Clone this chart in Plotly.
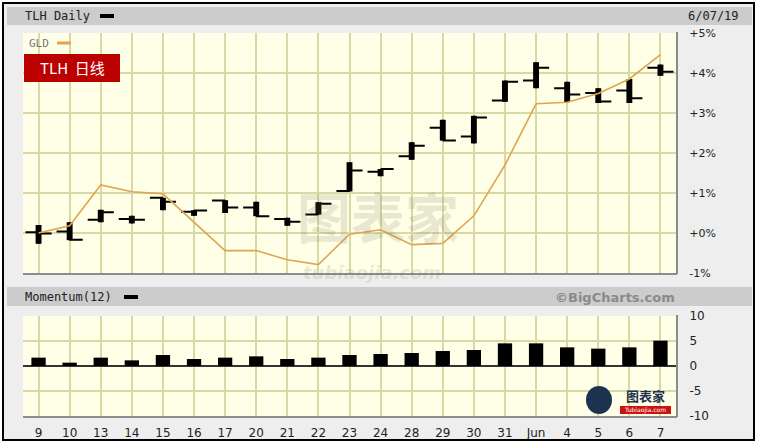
import plotly.graph_objects as go

# ---------------- data ----------------
dates = ["9", "10", "13", "14", "15", "16", "17", "20", "21", "22", "23",
         "24", "28", "29", "30", "31", "Jun", "4", "5", "6", "7"]
tlh_open = [0.02, 0.04, 0.33, 0.35, 0.88, 0.53, 0.81, 0.64, 0.35, 0.46, 1.05,
            1.53, 1.92, 2.63, 2.41, 3.31, 3.81, 3.62, 3.50, 3.56, 4.13]
tlh_high = [0.20, 0.27, 0.58, 0.43, 0.88, 0.57, 0.82, 0.78, 0.38, 0.77, 1.77,
            1.60, 2.27, 2.83, 2.93, 3.81, 4.27, 3.78, 3.62, 3.85, 4.21]
tlh_low = [-0.27, -0.18, 0.27, 0.24, 0.57, 0.43, 0.50, 0.42, 0.18, 0.46, 1.04,
           1.42, 1.83, 2.31, 2.24, 3.28, 3.62, 3.27, 3.25, 3.25, 3.93]
tlh_close = [-0.01, -0.17, 0.52, 0.33, 0.78, 0.56, 0.64, 0.42, 0.28, 0.73, 1.56,
             1.60, 2.18, 2.31, 2.89, 3.78, 4.13, 3.46, 3.29, 3.37, 4.03]
gld = [0.00, 0.18, 1.20, 1.03, 0.98, 0.26, -0.44, -0.44, -0.67, -0.79, -0.03,
       0.08, -0.29, -0.26, 0.43, 1.70, 3.23, 3.27, 3.49, 3.85, 4.46]
momentum = [1.67, 0.67, 1.67, 1.13, 2.2, 1.4, 1.67, 1.93, 1.4, 1.67, 2.2,
            2.4, 2.6, 3.0, 3.2, 4.53, 4.53, 3.73, 3.47, 3.73, 5.07]
price_ticks = [-1, 0, 1, 2, 3, 4, 5]
price_tick_text = ["-1%", "+0%", "+1%", "+2%", "+3%", "+4%", "+5%"]
mom_ticks = [-10, -5, 0, 5, 10]
mom_tick_text = ["-10", "-5", "0", "5", "10"]

# ---------------- layout helpers ----------------
W, H = 762, 445
def px(x):
    return x / W
def py(y):
    return 1 - y / H

idx = list(range(len(dates)))
rng = [-0.5, len(dates) - 0.5]
GRID = "#d9d9a6"
PLOTBG = "#fffee6"
FONT = "DejaVu Sans"

fig = go.Figure()

fig.add_trace(go.Scatter(x=idx, y=gld, mode="lines",
                         line=dict(color="#dea650", width=1.6),
                         xaxis="x", yaxis="y", hoverinfo="skip"))
fig.add_trace(go.Ohlc(x=idx, open=tlh_open, high=tlh_high, low=tlh_low, close=tlh_close,
                      increasing=dict(line=dict(color="black", width=2)),
                      decreasing=dict(line=dict(color="black", width=2)),
                      tickwidth=0.42, xaxis="x", yaxis="y"))
fig.add_trace(go.Bar(x=idx, base=tlh_low,
                     y=[h - l for h, l in zip(tlh_high, tlh_low)],
                     width=0.19, marker=dict(color="black", line=dict(width=0)),
                     xaxis="x", yaxis="y"))
fig.add_trace(go.Bar(x=idx, y=momentum, width=0.46,
                     marker=dict(color="black", line=dict(width=0)),
                     xaxis="x2", yaxis="y2"))

shapes = []
# white strips outside the frame
for (x0, x1, y0, y1) in [(0, 762, 0, 3), (0, 762, 440, 445), (0, 3, 0, 445), (754, 762, 0, 445)]:
    shapes.append(dict(type="rect", xref="paper", yref="paper", x0=px(x0), x1=px(x1), y0=py(y1), y1=py(y0),
                       fillcolor="white", line=dict(width=0), layer="below"))
# outer frame line
shapes.append(dict(type="rect", xref="paper", yref="paper", x0=px(3), x1=px(754), y0=py(440), y1=py(3),
                   line=dict(color="black", width=2)))
# header bars
shapes.append(dict(type="rect", xref="paper", yref="paper", x0=px(7), x1=px(752), y0=py(25), y1=py(7),
                   fillcolor="#cccccc", line=dict(width=0), layer="below"))
shapes.append(dict(type="rect", xref="paper", yref="paper", x0=px(7), x1=px(752), y0=py(306), y1=py(287),
                   fillcolor="#cccccc", line=dict(width=0), layer="below"))
# legend dashes
shapes.append(dict(type="line", xref="paper", yref="paper", x0=px(100), x1=px(114), y0=py(16), y1=py(16),
                   line=dict(color="black", width=4)))
shapes.append(dict(type="line", xref="paper", yref="paper", x0=px(57), x1=px(71), y0=py(43), y1=py(43),
                   line=dict(color="#dea650", width=3)))
shapes.append(dict(type="line", xref="paper", yref="paper", x0=px(124), x1=px(138), y0=py(297), y1=py(297),
                   line=dict(color="black", width=4)))
# red label box
shapes.append(dict(type="rect", xref="paper", yref="paper", x0=px(24), x1=px(120), y0=py(82), y1=py(54),
                   fillcolor="#bb0000", line=dict(width=0)))
# plot shadows (bottom / right edges)
for (t, b) in [(32, 274), (315, 417)]:
    shapes.append(dict(type="line", xref="paper", yref="paper", x0=px(23), x1=px(677), y0=py(b), y1=py(b),
                       line=dict(color="#8c8c8c", width=2)))
    shapes.append(dict(type="line", xref="paper", yref="paper", x0=px(677), x1=px(677), y0=py(b), y1=py(t),
                       line=dict(color="#8c8c8c", width=2)))
# bottom-right logo pieces
shapes.append(dict(type="circle", xref="paper", yref="paper", x0=px(586), x1=px(612), y0=py(414), y1=py(386),
                   fillcolor="#1c3350", line=dict(width=0)))
shapes.append(dict(type="rect", xref="paper", yref="paper", x0=px(620), x1=px(671), y0=py(414), y1=py(406),
                   fillcolor="#cc1111", line=dict(width=0)))

annotations = [
    dict(text="TLH Daily", x=px(23), y=py(16), xanchor="left", yanchor="middle",
         font=dict(family="DejaVu Sans Mono", size=12, color="#222222")),
    dict(text="6/07/19", x=px(741), y=py(16), xanchor="right", yanchor="middle",
         font=dict(family="DejaVu Sans Mono", size=12, color="#222222")),
    dict(text="GLD", x=px(27), y=py(43), xanchor="left", yanchor="middle",
         font=dict(family="DejaVu Sans Mono", size=11, color="#777777")),
    dict(text="TLH  日线", x=px(72), y=py(68), xanchor="center", yanchor="middle",
         font=dict(family="Noto Sans CJK SC", size=15, color="white")),
    dict(text="Momentum(12)", x=px(23), y=py(297), xanchor="left", yanchor="middle",
         font=dict(family="DejaVu Sans Mono", size=12, color="#222222")),
    dict(text="<b>©BigCharts.com</b>", x=px(677), y=py(297), xanchor="right", yanchor="middle",
         font=dict(family=FONT, size=13, color="#8a8a8a")),
    dict(text="<b>图表家</b>", x=px(378), y=py(216), xanchor="center", yanchor="middle",
         font=dict(family="Noto Sans CJK SC", size=54, color="rgba(120,120,100,0.17)")),
    dict(text="<b><i>tubiaojia.com</i></b>", x=px(372), y=py(272), xanchor="center", yanchor="middle",
         font=dict(family=FONT, size=18, color="rgba(120,120,100,0.17)")),
    dict(text="<b>图表家</b>", x=px(645), y=py(395), xanchor="center", yanchor="middle",
         font=dict(family="Noto Sans CJK SC", size=13, color="#1c3350")),
    dict(text="Tubiaojia.com", x=px(645), y=py(410), xanchor="center", yanchor="middle",
         font=dict(family=FONT, size=6, color="white")),
]
for a in annotations:
    a.update(xref="paper", yref="paper", showarrow=False)

axis_common = dict(range=rng, tickvals=idx, showgrid=True, gridcolor=GRID, gridwidth=2,
                   zeroline=False, showline=False, fixedrange=True, automargin=False)

fig.update_layout(
    width=W, height=H, autosize=False,
    margin=dict(l=0, r=0, t=0, b=0, pad=0),
    paper_bgcolor="#eeeeee", plot_bgcolor=PLOTBG,
    showlegend=False, barmode="overlay",
    font=dict(family=FONT, size=11, color="#222222"),
    xaxis=dict(domain=[px(23), px(676)], anchor="y", showticklabels=False,
               rangeslider=dict(visible=False), ticks="", **axis_common),
    yaxis=dict(domain=[py(273), py(33)], range=[-1, 5], side="right", anchor="x",
               tickvals=price_ticks, ticktext=price_tick_text, showgrid=True,
               gridcolor=GRID, gridwidth=2, zeroline=False, showline=False, automargin=False,
               ticks="outside", ticklen=10, tickcolor="rgba(0,0,0,0)", fixedrange=True,
               tickfont=dict(family=FONT, size=11, color="#222222")),
    xaxis2=dict(domain=[px(23), px(676)], anchor="y2", ticktext=dates,
                ticks="outside", ticklen=6, tickcolor="rgba(0,0,0,0)",
                tickfont=dict(family=FONT, size=12, color="#222222"), **axis_common),
    yaxis2=dict(domain=[py(416), py(316)], range=[-10, 10], side="right", anchor="x2",
                tickvals=mom_ticks, ticktext=mom_tick_text, showgrid=True,
                gridcolor=GRID, gridwidth=2, zeroline=True, zerolinecolor="#333333",
                zerolinewidth=2, showline=False, automargin=False, fixedrange=True,
                ticks="outside", ticklen=10, tickcolor="rgba(0,0,0,0)",
                tickfont=dict(family=FONT, size=12, color="#222222")),
    shapes=shapes, annotations=annotations,
)

fig.write_html("out.html", config={"displayModeBar": False},
               post_script="document.body.style.margin='0px';")
